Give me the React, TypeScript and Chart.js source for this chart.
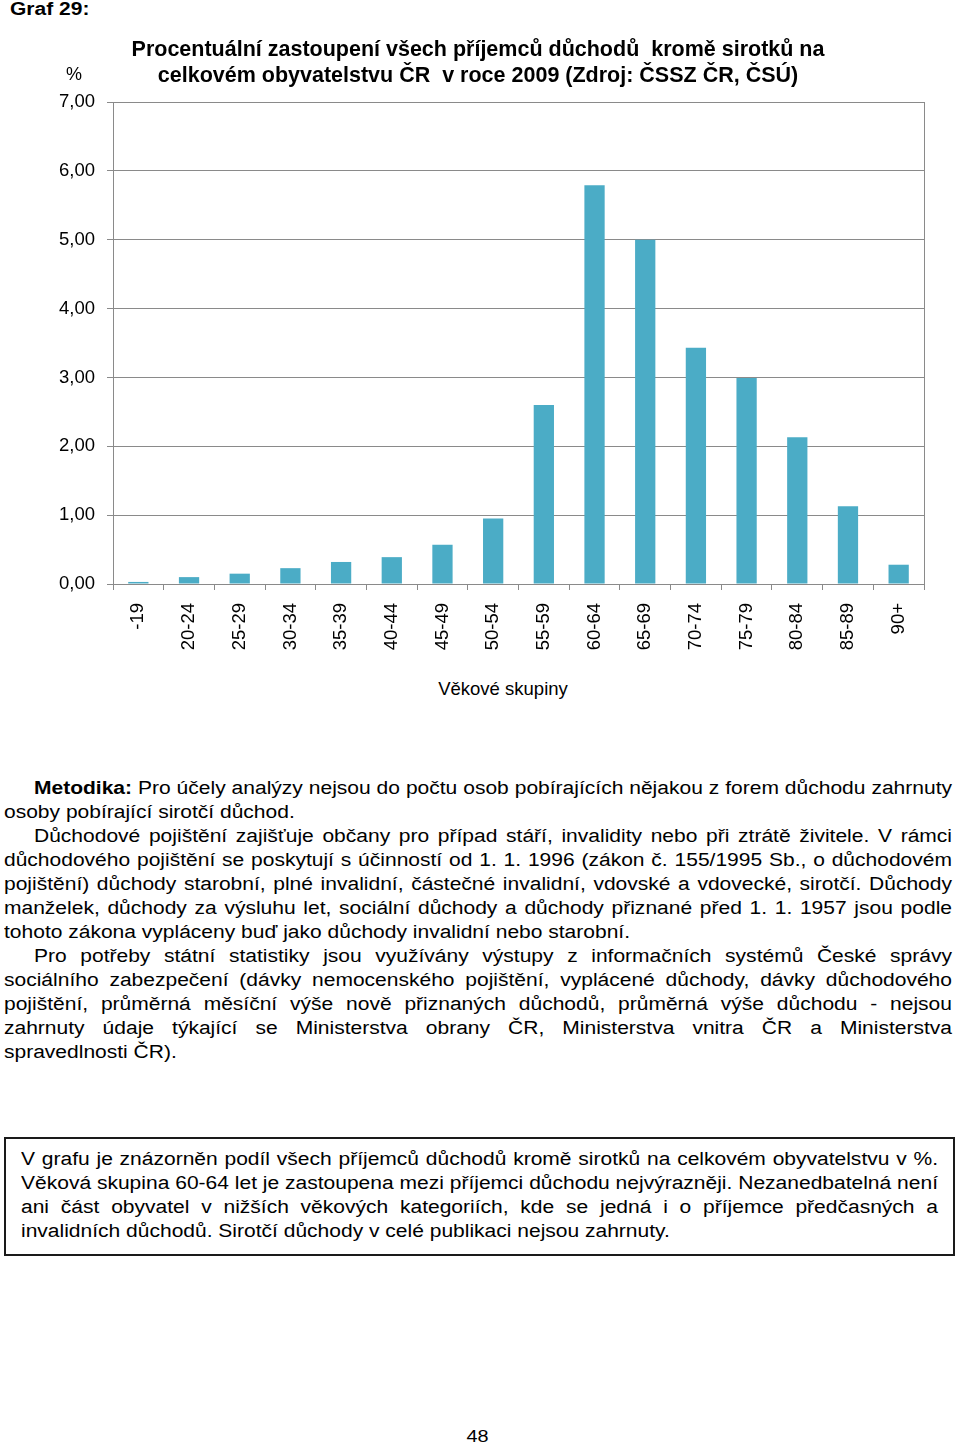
import React, { useEffect, useRef } from "react";
import { Chart, registerables } from "chart.js";

Chart.register(...registerables);

const FONT = "'Liberation Sans', Arial, Helvetica, sans-serif";

// ---- chart data ----
const ageGroups = [
  "-19", "20-24", "25-29", "30-34", "35-39", "40-44", "45-49", "50-54",
  "55-59", "60-64", "65-69", "70-74", "75-79", "80-84", "85-89", "90+",
];
const sharePct = [
  0.03, 0.1, 0.15, 0.23, 0.32, 0.39, 0.57, 0.95,
  2.6, 5.79, 5.0, 3.43, 2.99, 2.13, 1.13, 0.28,
];
const yMin = 0;
const yMax = 7;
const yStep = 1;
const chartTitle = [
  "Procentuální zastoupení všech příjemců důchodů  kromě sirotků na",
  "celkovém obyvatelstvu ČR  v roce 2009 (Zdroj: ČSSZ ČR, ČSÚ)",
];
const yUnit = "%";
const xAxisTitle = "Věkové skupiny";
const graphLabel = "Graf 29:";
const pageNumber = "48";

// ---- page text ----
const methodLead = "Metodika:";
const paragraphs: string[][] = [
  [
    "Pro účely analýzy nejsou do počtu osob pobírajících nějakou z forem důchodu zahrnuty",
    "osoby pobírající sirotčí důchod.",
  ],
  [
    "Důchodové pojištění zajišťuje občany pro případ stáří, invalidity nebo při ztrátě živitele. V rámci",
    "důchodového pojištění se poskytují s účinností od 1. 1. 1996 (zákon č. 155/1995 Sb., o důchodovém",
    "pojištění) důchody starobní, plné invalidní, částečné invalidní, vdovské a vdovecké, sirotčí. Důchody",
    "manželek, důchody za výsluhu let, sociální důchody a důchody přiznané před 1. 1. 1957 jsou podle",
    "tohoto zákona vypláceny buď jako důchody invalidní nebo starobní.",
  ],
  [
    "Pro potřeby státní statistiky jsou využívány výstupy z informačních systémů České správy",
    "sociálního zabezpečení (dávky nemocenského pojištění, vyplácené důchody, dávky důchodového",
    "pojištění, průměrná měsíční výše nově přiznaných důchodů, průměrná výše důchodu - nejsou",
    "zahrnuty údaje týkající se Ministerstva obrany ČR, Ministerstva vnitra ČR a Ministerstva",
    "spravedlnosti ČR).",
  ],
];
const boxLines = [
  "V grafu je znázorněn podíl všech příjemců důchodů kromě sirotků na celkovém obyvatelstvu v %.",
  "Věková skupina 60-64 let je zastoupena mezi příjemci důchodu nejvýrazněji. Nezanedbatelná není",
  "ani část obyvatel v nižších věkových kategoriích, kde se jedná i o příjemce předčasných a",
  "invalidních důchodů. Sirotčí důchody v celé publikaci nejsou zahrnuty.",
];

const AXIS = "#8a8a8a";
const BAR = "#4BACC6";
const S = 1.167; // horizontal stretch of the body text
const BODY = 18;

const fmt = (v: number) => Number(v).toFixed(2).replace(".", ",");

const frame = {
  id: "frame",
  afterDatasetsDraw(chart: any) {
    const { ctx, chartArea } = chart;
    ctx.save();
    ctx.strokeStyle = AXIS;
    ctx.lineWidth = 1;
    ctx.beginPath();
    ctx.moveTo(Math.round(chartArea.right) + 0.5, chartArea.top);
    ctx.lineTo(Math.round(chartArea.right) + 0.5, chartArea.bottom);
    ctx.stroke();
    ctx.restore();
  },
};

function BarChart() {
  const ref = useRef<HTMLCanvasElement | null>(null);
  useEffect(() => {
    if (!ref.current) return;
    const H = 670;
    const chart = new Chart(ref.current, {
      type: "bar",
      data: {
        labels: ageGroups,
        datasets: [
          {
            data: sharePct,
            backgroundColor: BAR,
            borderWidth: 0,
            barPercentage: 0.4,
            categoryPercentage: 1,
          },
        ],
      },
      options: {
        animation: false,
        responsive: false,
        maintainAspectRatio: false,
        devicePixelRatio: 1,
        layout: { padding: { left: 32, right: 36, top: 0, bottom: 0 } },
        plugins: {
          legend: { display: false },
          tooltip: { enabled: false },
          title: {
            display: true,
            text: chartTitle,
            color: "#000",
            font: { family: FONT, size: 21.5, weight: "bold", lineHeight: 1.2 },
            padding: { top: 37, bottom: 13.4 },
          },
        },
        scales: {
          x: {
            grid: {
              drawOnChartArea: false,
              drawTicks: true,
              tickLength: 6,
              color: AXIS,
              offset: true,
            },
            border: { color: AXIS, width: 1 },
            ticks: {
              color: "#000",
              font: { family: FONT, size: 18.5 },
              minRotation: 90,
              maxRotation: 90,
              padding: 13,
              autoSkip: false,
            },
            afterFit: (s: any) => {
              s.height = H - 584;
            },
          },
          y: {
            min: yMin,
            max: yMax,
            ticks: {
              stepSize: yStep,
              color: "#000",
              font: { family: FONT, size: 18.5 },
              padding: 12,
              callback: (v: any) => fmt(v),
            },
            grid: { color: AXIS, tickLength: 6, lineWidth: 1 },
            border: { color: AXIS, width: 1 },
            afterFit: (s: any) => {
              s.width = 113 - 32;
            },
          },
        },
      },
      plugins: [frame],
    } as any);
    return () => chart.destroy();
  }, []);
  return (
    <canvas
      ref={ref}
      width={960}
      height={670}
      style={{ position: "absolute", left: 0, top: 0, width: 960, height: 670 }}
    />
  );
}

function JLine({
  children,
  last,
  indent,
}: {
  children: React.ReactNode;
  last?: boolean;
  indent?: number;
}) {
  return (
    <div
      style={{
        height: 24,
        lineHeight: "24px",
        whiteSpace: "nowrap",
        textAlign: last ? "left" : "justify",
        textAlignLast: last ? "left" : "justify",
        paddingLeft: indent || 0,
      } as any}
    >
      {children}
    </div>
  );
}

export default function App() {
  const bodyW = 948;
  const boxTextW = 917;
  return (
    <div
      style={{
        position: "absolute",
        left: 0,
        top: 0,
        width: 960,
        height: 1446,
        background: "#fff",
        color: "#000",
        fontFamily: FONT,
        overflow: "hidden",
      }}
    >
      {/* Graf label */}
      <div
        style={{
          position: "absolute",
          left: 10,
          top: -3,
          fontSize: BODY,
          fontWeight: "bold",
          lineHeight: "24px",
          transform: `scaleX(${S})`,
          transformOrigin: "0 0",
          whiteSpace: "nowrap",
        }}
      >
        {graphLabel}
      </div>

      <BarChart />

      {/* y unit */}
      <div
        style={{
          position: "absolute",
          left: 66,
          top: 62,
          fontSize: 18,
          lineHeight: "24px",
        }}
      >
        {yUnit}
      </div>

      {/* x axis title */}
      <div
        style={{
          position: "absolute",
          left: 403,
          width: 200,
          top: 677,
          fontSize: 18.5,
          lineHeight: "24px",
          textAlign: "center",
        }}
      >
        {xAxisTitle}
      </div>

      {/* body text */}
      <div
        style={{
          position: "absolute",
          left: 4,
          top: 776,
          width: bodyW / S,
          fontSize: BODY,
          transform: `scaleX(${S})`,
          transformOrigin: "0 0",
        }}
      >
        {paragraphs.map((p, pi) =>
          p.map((line, li) => (
            <JLine
              key={`${pi}-${li}`}
              last={li === p.length - 1}
              indent={li === 0 ? 30 / S : 0}
            >
              {pi === 0 && li === 0 ? (
                <>
                  <b>{methodLead}</b> {line}
                </>
              ) : (
                line
              )}
            </JLine>
          ))
        )}
      </div>

      {/* framed summary */}
      <div
        style={{
          position: "absolute",
          left: 4,
          top: 1137,
          width: 951,
          height: 119,
          border: "2px solid #1a1a1a",
          boxSizing: "border-box",
        }}
      >
        <div
          style={{
            position: "absolute",
            left: 15,
            top: 8,
            width: boxTextW / S,
            fontSize: BODY,
            transform: `scaleX(${S})`,
            transformOrigin: "0 0",
          }}
        >
          {boxLines.map((line, i) => (
            <JLine key={i} last={i === boxLines.length - 1}>
              {line}
            </JLine>
          ))}
        </div>
      </div>

      {/* page number */}
      <div
        style={{
          position: "absolute",
          left: 377,
          width: 200,
          top: 1425,
          fontSize: 17,
          lineHeight: "24px",
          textAlign: "center",
        }}
      >
        <span style={{ display: "inline-block", transform: `scaleX(${S})` }}>
          {pageNumber}
        </span>
      </div>
    </div>
  );
}
